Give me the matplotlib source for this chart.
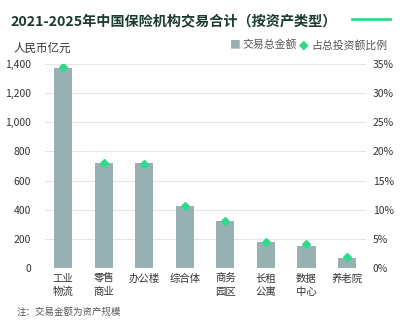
import matplotlib.pyplot as plt
from matplotlib.lines import Line2D
import numpy as np

plt.rcParams['font.family'] = ['Noto Sans CJK SC', 'DejaVu Sans']

categories = ["工业\n物流", "零售\n商业", "办公楼", "综合体", "商务\n园区", "长租\n公寓", "数据\n中心", "养老院"]
amount = [1370, 723, 718, 425, 322, 176, 148, 69]
share_pct = [34.5, 18.1, 17.9, 10.6, 8.1, 4.4, 4.1, 1.9]

bar_color = "#97b0b1"
dot_color = "#2edb8c"
text_color = "#333333"


def main():
    fig = plt.figure(figsize=(4.0, 3.23), dpi=100)
    ax = fig.add_axes([45 / 400, 1 - 268 / 323, 321 / 400, 204 / 323])
    ax2 = ax.twinx()

    x = np.arange(len(categories))
    ax.bar(x, amount, width=0.45, color=bar_color, zorder=2)
    ax2.plot(x, share_pct, linestyle="none", marker="D", markersize=4.5,
             color=dot_color, zorder=3)

    ax.set_ylim(0, 1400)
    ax.set_yticks(np.arange(0, 1401, 200))
    ax.set_yticklabels([f"{v:,}" for v in range(0, 1401, 200)])
    ax2.set_ylim(0, 35)
    ax2.set_yticks(np.arange(0, 36, 5))
    ax2.set_yticklabels([f"{v}%" for v in range(0, 36, 5)])
    ax.set_xlim(-0.45, 7.47)
    ax.set_xticks(x)
    ax.set_xticklabels(categories, fontsize=7.5, color=text_color, linespacing=1.4,
                       va="top")

    ax.grid(axis="y", color="#e4e6e6", linewidth=0.8, zorder=0)
    for a in (ax, ax2):
        for s in a.spines.values():
            s.set_visible(False)
        a.tick_params(length=0, labelsize=7.5, labelcolor=text_color)
    ax.tick_params(axis="y", pad=10)
    ax2.tick_params(axis="y", pad=5)
    ax.tick_params(axis="x", pad=4)
    ax.set_zorder(ax2.get_zorder() - 1)
    ax.patch.set_visible(True)
    ax2.patch.set_visible(False)

    fig.text(10 / 400, 1 - 21 / 323, "2021-2025年中国保险机构交易合计（按资产类型）",
             fontsize=10.2, fontweight="bold", color="#1c3b2f", va="center")
    fig.add_artist(Line2D([352 / 400, 390 / 400], [1 - 19 / 323, 1 - 19 / 323],
                          color="#2edb8c", linewidth=2))
    fig.text(14 / 400, 1 - 48 / 323, "人民币亿元", fontsize=8.3, color=text_color,
             va="center")

    fig.text(230 / 400, 1 - 45 / 323, "■", fontsize=7.8, color=bar_color, va="center")
    fig.text(242 / 400, 1 - 45 / 323, "交易总金额", fontsize=7.8, color="#555555", va="center")
    fig.text(299 / 400, 1 - 45 / 323, "◆", fontsize=9, color=dot_color, va="center",
             family=["DejaVu Sans"])
    fig.text(311 / 400, 1 - 45 / 323, "占总投资额比例", fontsize=7.8, color="#555555",
             va="center")

    fig.text(17 / 400, 1 - 312 / 323, "注：交易金额为资产规模", fontsize=6.8,
             color="#555555", va="center")

    fig.savefig("out.png", dpi=100)


if __name__ == '__main__':
    main()
